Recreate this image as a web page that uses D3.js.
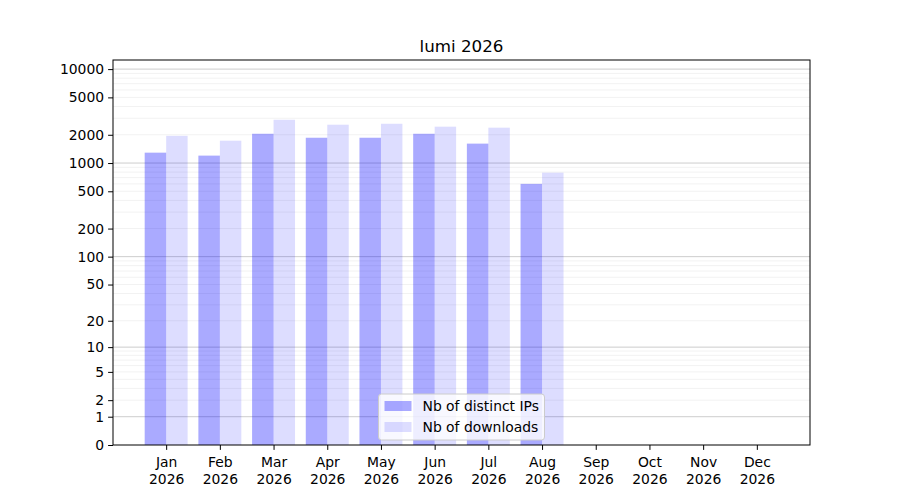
<!DOCTYPE html>
<html lang="en">
  <head>
    <meta charset="utf-8" />
    <title>lumi 2026</title>
    <script src="https://d3js.org/d3.v7.min.js"></script>
    <style>
      body { margin: 0; background: #fff; }
      text { font-family: "DejaVu Sans", sans-serif; fill: #000; }
    </style>
  </head>
  <body>
    <svg id="chart" width="900" height="500"></svg>

    <script>
      // data
      const months = ["Jan", "Feb", "Mar", "Apr", "May", "Jun", "Jul", "Aug", "Sep", "Oct", "Nov", "Dec"];
      const year = "2026";
      const distinctIPs = [1290, 1200, 2050, 1860, 1860, 2050, 1610, 600, null, null, null, null];
      const downloads   = [1950, 1730, 2890, 2560, 2620, 2440, 2380, 790, null, null, null, null];
      const yTickValues = [0, 1, 2, 5, 10, 20, 50, 100, 200, 500, 1000, 2000, 5000, 10000];
      const majorGrid = [1, 10, 100, 1000, 10000];
      const seriesNames = ["Nb of distinct IPs", "Nb of downloads"];

      const svg = d3.select("#chart"),
        margin = {top: 60, right: 90, bottom: 55, left: 113},
        width = +svg.attr("width") - margin.left - margin.right,
        height = +svg.attr("height") - margin.top - margin.bottom;

      const g = svg.append("g").attr("transform", `translate(${margin.left},${margin.top})`);

      // x: month index, with matplotlib-like margins
      const x = d3.scaleLinear().domain([-0.99, 11.99]).range([0, width]);
      const barW = x(0.4) - x(0);

      const y = d3.scaleSymlog().constant(1).domain([0, 12500]).range([height, 0]);

      // minor grid
      const minorGrid = [];
      [1, 10, 100, 1000].forEach(d => { for (let k = 2; k <= 9; k++) minorGrid.push(k * d); });

      g.append("g").selectAll("line")
        .data(minorGrid.filter(v => v < 12500))
        .enter().append("line")
        .attr("x1", 0).attr("x2", width)
        .attr("y1", d => y(d)).attr("y2", d => y(d))
        .attr("stroke", "#000").attr("stroke-opacity", 0.07).attr("stroke-width", 0.8);

      g.append("g").selectAll("line")
        .data(majorGrid)
        .enter().append("line")
        .attr("x1", 0).attr("x2", width)
        .attr("y1", d => y(d)).attr("y2", d => y(d))
        .attr("stroke", "#000").attr("stroke-opacity", 0.25).attr("stroke-width", 0.8);

      // bars
      g.append("g").selectAll("rect")
        .data(distinctIPs.map((v, i) => ({i, v})).filter(d => d.v != null))
        .enter().append("rect")
        .attr("x", d => x(d.i - 0.4))
        .attr("width", barW)
        .attr("y", d => y(d.v))
        .attr("height", d => y(0) - y(d.v))
        .attr("fill", "blue").attr("fill-opacity", 0.333);

      g.append("g").selectAll("rect")
        .data(downloads.map((v, i) => ({i, v})).filter(d => d.v != null))
        .enter().append("rect")
        .attr("x", d => x(d.i))
        .attr("width", barW)
        .attr("y", d => y(d.v))
        .attr("height", d => y(0) - y(d.v))
        .attr("fill", "blue").attr("fill-opacity", 0.133);

      // frame
      g.append("rect")
        .attr("width", width).attr("height", height)
        .attr("fill", "none").attr("stroke", "#000").attr("stroke-width", 1);

      // y axis
      const yAxis = g.append("g")
        .call(d3.axisLeft(y).tickValues(yTickValues).tickFormat(d3.format("d")).tickSize(4.9).tickPadding(4));
      yAxis.select(".domain").remove();
      yAxis.selectAll("text").style("font-size", "13.9px").style("font-family", "DejaVu Sans");

      // x axis
      const xAxis = g.append("g")
        .attr("transform", `translate(0,${height})`)
        .call(d3.axisBottom(x).tickValues(d3.range(12)).tickFormat("").tickSize(4.9));
      xAxis.select(".domain").remove();
      xAxis.selectAll(".tick").append("text")
        .attr("text-anchor", "middle")
        .style("font-size", "13.9px")
        .style("font-family", "DejaVu Sans")
        .attr("fill", "#000")
        .each(function(d) {
          const t = d3.select(this);
          t.append("tspan").attr("x", 0).attr("y", 22).text(months[d]);
          t.append("tspan").attr("x", 0).attr("y", 38.5).text(year);
        });

      // title
      svg.append("text")
        .attr("x", margin.left + width / 2)
        .attr("y", 52)
        .attr("text-anchor", "middle")
        .style("font-size", "16.7px")
        .text("lumi 2026");

      // legend, lower center
      const lgW = 166, lgH = 46;
      const legend = g.append("g")
        .attr("transform", `translate(${width / 2 - lgW / 2},${height - lgH - 5})`);
      legend.append("rect")
        .attr("width", lgW).attr("height", lgH).attr("rx", 3)
        .attr("fill", "#fff").attr("fill-opacity", 0.8)
        .attr("stroke", "#ccc").attr("stroke-width", 1);
      const opac = [0.333, 0.133];
      seriesNames.forEach((name, i) => {
        legend.append("rect")
          .attr("x", 6).attr("y", 7 + i * 21)
          .attr("width", 27).attr("height", 10)
          .attr("fill", "blue").attr("fill-opacity", opac[i]);
        legend.append("text")
          .attr("x", 44).attr("y", 17 + i * 21)
          .style("font-size", "13.9px")
          .text(name);
      });
    </script>
  </body>
</html>
